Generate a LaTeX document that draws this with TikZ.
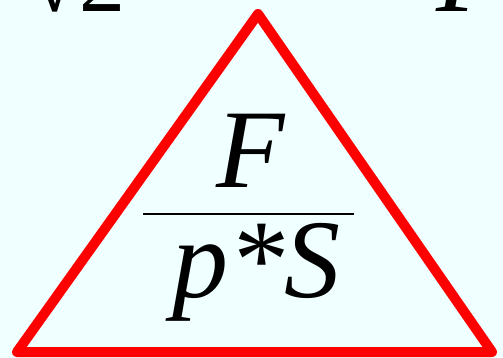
\documentclass[tikz,border=0pt]{standalone}
\usepackage{fontspec}
\setmainfont{Liberation Serif}
\usetikzlibrary{positioning}
\definecolor{bgcyan}{RGB}{240,255,255}
\definecolor{trired}{RGB}{255,0,0}
\tikzset{>=latex}
\tikzset{bigtxt/.style={inner sep=0pt, font=\fontsize{112}{112}\selectfont}}
\tikzset{toptxt/.style={inner sep=0pt, font=\fontsize{92}{92}\selectfont}}

\begin{document}
\begin{tikzpicture}[x=1pt,y=-1pt]
  \useasboundingbox (0,0) rectangle (503,358);
  \clip (0,0) rectangle (503,358);
  \fill[bgcyan] (0,0) rectangle (503,358);
  % labels cut off by the top edge
  \node[toptxt, anchor=base west] (lefttxt) at (29,12) {√2};
  \node[bigtxt, anchor=base west] (righttxt) at (436,12) {\itshape F};
  % the triangle
  \coordinate (apex) at (258,14);
  \coordinate (botl) at (17,352);
  \coordinate (botr) at (492,352);
  \draw[trired, line width=10pt, line join=round] (apex) -- (botl) -- (botr) -- cycle;
  % the fraction
  \node[bigtxt, anchor=base] (num) at (251,188) {\itshape F};
  \node[bigtxt, anchor=base] (den) at (256,297) {\itshape p*S};
  \coordinate (barl) at (143,214);
  \coordinate (barr) at (354,214);
  \draw[line width=1.8pt] (barl) -- (barr);
\end{tikzpicture}
\end{document}
